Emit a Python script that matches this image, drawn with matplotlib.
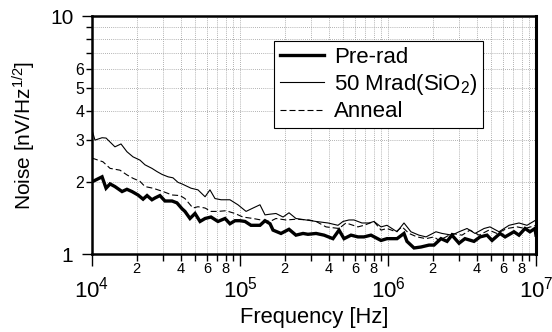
import numpy as np
import matplotlib
matplotlib.use("Agg")
import matplotlib.pyplot as plt
from matplotlib.ticker import LogLocator, FuncFormatter

plt.rcParams['font.family'] = ['Liberation Sans', 'DejaVu Sans']
plt.rcParams['mathtext.fontset'] = 'custom'
plt.rcParams['mathtext.rm'] = 'Liberation Sans'
plt.rcParams['mathtext.it'] = 'Liberation Sans:italic'
plt.rcParams['mathtext.bf'] = 'Liberation Sans:bold'

# log10(frequency [Hz]) and noise [nV/Hz^1/2]
prerad_logf = [4.000, 4.068, 4.095, 4.122, 4.155, 4.203, 4.236, 4.270, 4.311, 4.345,
               4.372, 4.405, 4.426, 4.459, 4.493, 4.541, 4.574, 4.608, 4.628, 4.662,
               4.696, 4.730, 4.764, 4.804, 4.851, 4.899, 4.932, 4.966, 5.000, 5.034,
               5.074, 5.135, 5.169, 5.203, 5.223, 5.277, 5.331, 5.378, 5.426, 5.459,
               5.514, 5.568, 5.628, 5.669, 5.703, 5.750, 5.797, 5.838, 5.885, 5.953,
               5.993, 6.061, 6.108, 6.128, 6.176, 6.223, 6.277, 6.311, 6.358, 6.399,
               6.432, 6.480, 6.520, 6.581, 6.622, 6.669, 6.703, 6.757, 6.791, 6.851,
               6.885, 6.926, 6.959, 6.993, 7.000]
prerad_noise = [2.01, 2.11, 1.89, 1.97, 1.92, 1.83, 1.87, 1.83, 1.77, 1.70,
                1.76, 1.69, 1.72, 1.76, 1.67, 1.67, 1.64, 1.55, 1.51, 1.41,
                1.48, 1.37, 1.41, 1.43, 1.37, 1.41, 1.34, 1.38, 1.38, 1.37,
                1.32, 1.32, 1.38, 1.34, 1.26, 1.22, 1.27, 1.20, 1.22, 1.21,
                1.22, 1.20, 1.16, 1.26, 1.16, 1.20, 1.18, 1.18, 1.20, 1.14,
                1.16, 1.16, 1.22, 1.13, 1.06, 1.07, 1.09, 1.09, 1.16, 1.13,
                1.20, 1.11, 1.16, 1.13, 1.18, 1.20, 1.14, 1.22, 1.18, 1.24,
                1.20, 1.28, 1.24, 1.28, 1.20]

mrad_logf = [4.000, 4.020, 4.068, 4.095, 4.155, 4.196, 4.236, 4.277, 4.324, 4.358,
             4.405, 4.439, 4.473, 4.514, 4.547, 4.581, 4.608, 4.669, 4.716, 4.764,
             4.797, 4.831, 4.872, 4.932, 4.986, 5.041, 5.088, 5.135, 5.169, 5.203,
             5.243, 5.291, 5.331, 5.378, 5.446, 5.514, 5.595, 5.662, 5.696, 5.736,
             5.770, 5.824, 5.872, 5.905, 5.953, 5.993, 6.061, 6.108, 6.155, 6.209,
             6.257, 6.324, 6.365, 6.432, 6.480, 6.534, 6.588, 6.649, 6.689, 6.750,
             6.818, 6.885, 6.939, 7.000]
mrad_noise = [3.32, 3.01, 3.08, 3.07, 2.82, 2.90, 2.69, 2.56, 2.48, 2.37,
              2.29, 2.22, 2.16, 2.11, 2.09, 2.00, 1.97, 1.89, 1.86, 1.74,
              1.86, 1.71, 1.69, 1.69, 1.61, 1.51, 1.56, 1.61, 1.46, 1.47,
              1.48, 1.43, 1.49, 1.41, 1.39, 1.37, 1.35, 1.32, 1.37, 1.39,
              1.39, 1.35, 1.35, 1.37, 1.30, 1.32, 1.24, 1.35, 1.24, 1.20,
              1.18, 1.24, 1.22, 1.20, 1.24, 1.28, 1.22, 1.28, 1.30, 1.24,
              1.32, 1.35, 1.32, 1.39]

anneal_logf = [4.000, 4.074, 4.122, 4.189, 4.236, 4.277, 4.324, 4.358, 4.412, 4.480,
               4.541, 4.595, 4.628, 4.682, 4.716, 4.764, 4.804, 4.851, 4.905, 4.966,
               5.020, 5.088, 5.142, 5.203, 5.243, 5.311, 5.378, 5.466, 5.514, 5.581,
               5.669, 5.716, 5.797, 5.838, 5.905, 5.953, 5.993, 6.054, 6.095, 6.142,
               6.196, 6.257, 6.311, 6.345, 6.392, 6.432, 6.500, 6.554, 6.615, 6.682,
               6.736, 6.804, 6.872, 6.926, 7.000]
anneal_noise = [2.53, 2.44, 2.29, 2.25, 2.15, 2.08, 2.02, 1.92, 1.89, 1.83,
                1.77, 1.76, 1.71, 1.56, 1.58, 1.56, 1.51, 1.51, 1.52, 1.48,
                1.43, 1.41, 1.39, 1.37, 1.41, 1.39, 1.40, 1.39, 1.37, 1.30,
                1.28, 1.35, 1.30, 1.32, 1.37, 1.26, 1.28, 1.24, 1.30, 1.22,
                1.18, 1.16, 1.18, 1.14, 1.18, 1.22, 1.20, 1.26, 1.20, 1.26,
                1.22, 1.28, 1.30, 1.28, 1.32]

series_labels = ['Pre-rad', '50 Mrad(SiO$_2$)', 'Anneal']
x_labeled_minors = [2, 4, 6, 8]
y_labeled_minors = [2, 3, 4, 5, 6]

fig = plt.figure(figsize=(5.52, 3.32), dpi=100)
ax = fig.add_axes([92/552, 78/332, 444/552, 238/332])

ax.plot(10**np.array(prerad_logf), prerad_noise, color='black', lw=2.4,
        label=series_labels[0], solid_joinstyle='miter')
ax.plot(10**np.array(mrad_logf), mrad_noise, color='black', lw=0.8,
        label=series_labels[1])
ax.plot(10**np.array(anneal_logf), anneal_noise, color='black', lw=0.8,
        dashes=(5.4, 2.7), label=series_labels[2])

ax.set_xscale('log')
ax.set_yscale('log')
ax.set_xlim(1e4, 1e7)
ax.set_ylim(1, 10)

ax.xaxis.set_major_locator(LogLocator(base=10, numticks=10))
ax.xaxis.set_minor_locator(LogLocator(base=10, subs=np.arange(2, 10), numticks=20))
ax.yaxis.set_major_locator(LogLocator(base=10, numticks=10))
ax.yaxis.set_minor_locator(LogLocator(base=10, subs=np.arange(2, 10), numticks=20))


def xmaj(v, pos):
    return r'$10^{%d}$' % int(round(np.log10(v)))


def xmin(v, pos):
    m = int(round(v / 10**np.floor(np.log10(v) + 1e-9)))
    return str(m) if m in x_labeled_minors else ''


def ymaj(v, pos):
    return '%d' % int(round(v))


def ymin(v, pos):
    m = int(round(v))
    return str(m) if m in y_labeled_minors else ''


ax.xaxis.set_major_formatter(FuncFormatter(xmaj))
ax.xaxis.set_minor_formatter(FuncFormatter(xmin))
ax.yaxis.set_major_formatter(FuncFormatter(ymaj))
ax.yaxis.set_minor_formatter(FuncFormatter(ymin))

ax.tick_params(axis='x', which='major', direction='out', length=8.6, width=1.0,
               labelsize=16, pad=7.5)
ax.tick_params(axis='x', which='minor', direction='out', length=5, width=1.0,
               labelsize=10.5, pad=1.0)
ax.tick_params(axis='y', which='major', direction='out', length=7.5, width=1.0,
               labelsize=15, pad=6)
ax.tick_params(axis='y', which='minor', direction='out', length=4.5, width=1.0,
               labelsize=11.5, pad=1)

ax.grid(True, which='both', color='#999999', linestyle=(0, (1, 1.5)), lw=0.6)
ax.set_axisbelow(True)

for s in ['left', 'bottom', 'top']:
    ax.spines[s].set_linewidth(1.8)
ax.spines['right'].set_linewidth(2.2)

ax.set_xlabel('Frequency [Hz]', fontsize=15.8)
ax.set_ylabel('Noise [nV/Hz$^{1/2}$]', fontsize=15)
ax.xaxis.set_label_coords(0.5, -0.222)
ax.yaxis.set_label_coords(-0.122, 0.5)

leg = ax.legend(loc='upper left', bbox_to_anchor=((274 - 92) / 444, (254 - 41) / 238),
                fontsize=16, frameon=True, fancybox=False, framealpha=1,
                edgecolor='black', borderpad=0.25, handlelength=2.0,
                handletextpad=0.45, labelspacing=0.2, borderaxespad=0)
leg.get_frame().set_linewidth(0.8)

fig.savefig('out.png', dpi=100)
